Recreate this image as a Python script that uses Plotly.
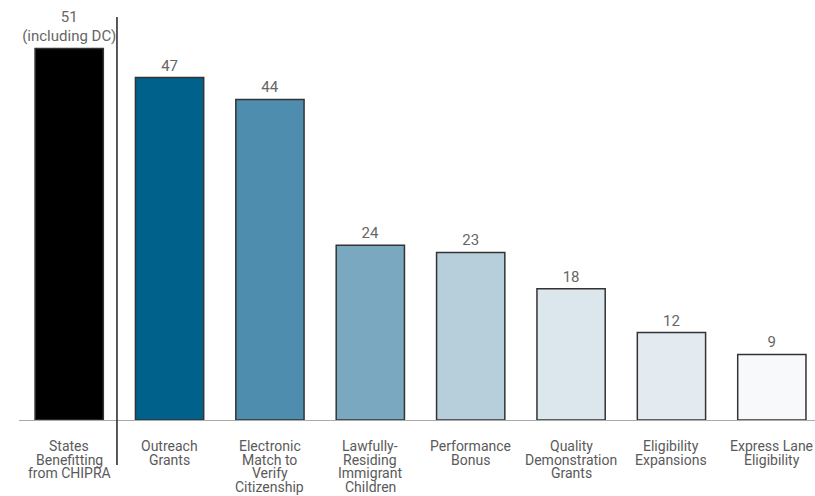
import plotly.graph_objects as go

categories = [
    "States<br>Benefitting<br>from CHIPRA",
    "Outreach<br>Grants",
    "Electronic<br>Match to<br>Verify<br>Citizenship",
    "Lawfully-<br>Residing<br>Immigrant<br>Children",
    "Performance<br>Bonus",
    "Quality<br>Demonstration<br>Grants",
    "Eligibility<br>Expansions",
    "Express Lane<br>Eligibility",
]
values = [51, 47, 44, 24, 23, 18, 12, 9]
value_labels = ["51<br>(including DC)", "47", "44", "24", "23", "18", "12", "9"]
colors = ["#000000", "#00628B", "#4F8DAE", "#7AA8C0", "#B7CFDB", "#DCE6ED", "#E3EAF0", "#F7F9FB"]

xs = list(range(len(categories)))

fig = go.Figure(go.Bar(
    x=xs,
    y=values,
    text=value_labels,
    textposition="outside",
    constraintext="none",
    textfont=dict(size=15, color="#666666"),
    cliponaxis=False,
    width=0.68,
    marker=dict(color=colors, line=dict(color="#333333", width=1.5)),
    hoverinfo="skip",
))

# category labels, one annotation per line for tight line spacing
for i, cat in enumerate(categories):
    for k, line in enumerate(cat.split("<br>")):
        fig.add_annotation(
            x=i, y=0, xref="x", yref="y", text=line, showarrow=False,
            xanchor="center", yanchor="middle", yshift=-(26 + 13.5 * k),
            borderpad=0,
            font=dict(size=14, color="#5A5A5A"),
        )

fig.add_shape(type="line", xref="x", yref="paper", x0=0.476, x1=0.476,
              y0=0.983, y1=-0.11, line=dict(color="#222222", width=1.5))

fig.update_layout(
    width=815, height=496,
    margin=dict(l=19, r=0, t=10, b=76),
    plot_bgcolor="white", paper_bgcolor="white",
    font=dict(family="Roboto, Liberation Sans, sans-serif"),
    showlegend=False,
)
fig.update_xaxes(
    range=[-0.5, 7.43], automargin=False,
    showticklabels=False,
    showline=True, linecolor="#AAAAAA", linewidth=1,
    ticks="", showgrid=False, zeroline=False,
)
fig.update_yaxes(range=[0, 56.27], automargin=False, visible=False, showgrid=False, zeroline=False)

fig.write_html("out.html", config={"displayModeBar": False},
               post_script="document.body.style.margin='0';document.body.style.overflow='hidden';")
